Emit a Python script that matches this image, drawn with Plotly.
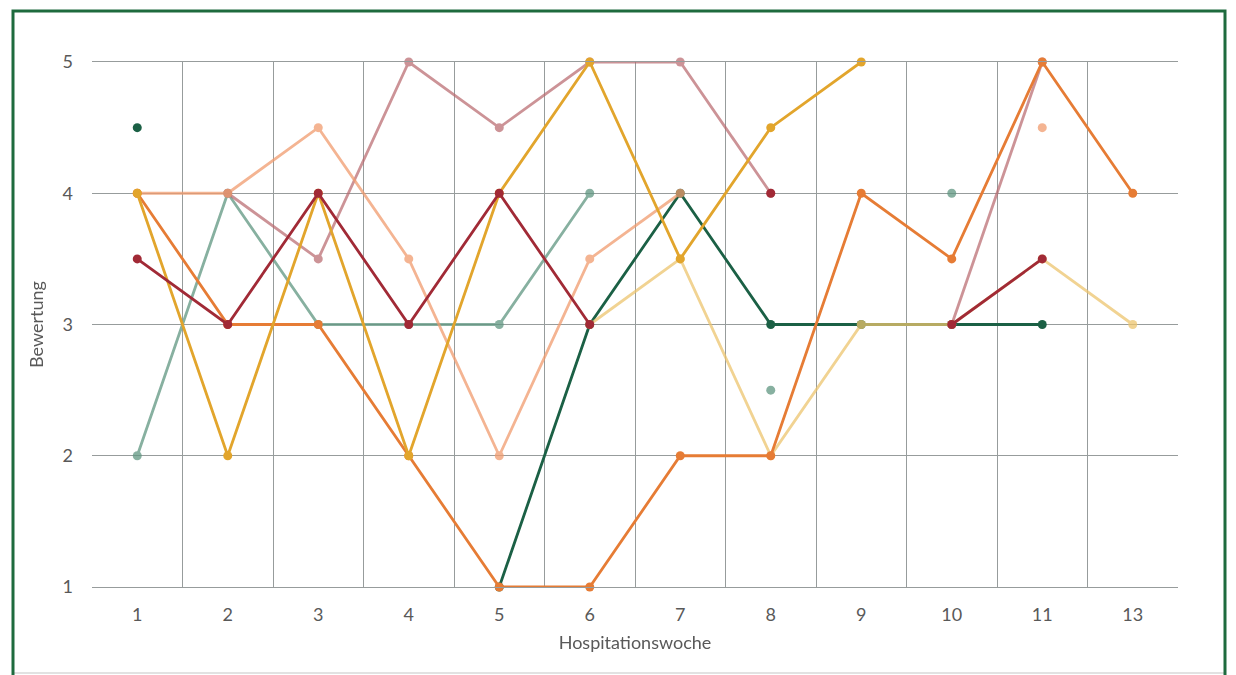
import plotly.graph_objects as go

weeks = ["1", "2", "3", "4", "5", "6", "7", "8", "9", "10", "11", "13"]

s_darkgreen = [4.5, None, None, None, 1, 3, 4, 3, 3, 3, 3, None]
s_teal = [2, 4, 3, 3, 3, 4, None, 2.5, None, 4, None, None]
s_pink = [None, 4, 3.5, 5, 4.5, 5, 5, 4, None, 3, 5, None]
s_peach = [4, 4, 4.5, 3.5, 2, 3.5, 4, None, None, None, 4.5, None]
s_lightyellow = [None, None, None, None, None, 3, 3.5, 2, 3, 3, 3.5, 3]
s_orange = [4, 3, 3, 2, 1, 1, 2, 2, 4, 3.5, 5, 4]
s_golden = [4, 2, 4, 2, 4, 5, 3.5, 4.5, 5, None, None, None]
s_darkred = [3.5, 3, 4, 3, 4, 3, None, 4, None, 3, 3.5, None]

series = [
    (s_darkgreen, "#1b6045", 1.0),
    (s_teal, "rgb(95,150,128)", 0.75),
    (s_pink, "rgb(185,105,110)", 0.72),
    (s_peach, "rgb(240,155,110)", 0.75),
    (s_lightyellow, "rgb(236,196,110)", 0.75),
    (s_orange, "#e67c35", 1.0),
    (s_golden, "#e2a52c", 1.0),
    (s_darkred, "#a12a36", 1.0),
]

fig = go.Figure()
for vals, col, op in series:
    fig.add_trace(go.Scatter(
        x=weeks, y=vals, mode="lines+markers",
        line=dict(color=col, width=2.8),
        marker=dict(color=col, size=9),
        opacity=op, cliponaxis=False, connectgaps=False,
        showlegend=False,
    ))

font = "Lato, 'Open Sans', sans-serif"
grid = "#979c9c"

# page body has an 8px margin; compensate so the plot area lands at 92..1178 / 62..587
fig.update_layout(
    width=1228, height=667,
    margin=dict(l=84, r=58, t=54, b=88),
    paper_bgcolor="white", plot_bgcolor="white",
    font=dict(family=font, size=18, color="#595959"),
    xaxis=dict(
        type="category", tickson="boundaries", showgrid=True,
        gridcolor=grid, gridwidth=1.4, ticks="", ticklen=0,
        showline=True, linecolor=grid, linewidth=1.4, mirror=True,
        zeroline=False, range=[-0.5, 11.5],
        ticklabelstandoff=11,
        title=dict(text="Hospitationswoche", standoff=12,
                   font=dict(family=font, size=18, color="#595959")),
    ),
    yaxis=dict(
        range=[1, 5], tickvals=[1, 2, 3, 4, 5], showgrid=True,
        gridcolor=grid, gridwidth=1.4, zeroline=False,
        showline=False, ticks="", ticklabelstandoff=18,
        title=dict(text="Bewertung", standoff=14,
                   font=dict(family=font, size=18, color="#595959")),
    ),
)

# outer frame (dark green border); coordinates in screen pixels of the reference
W, H = 1086.0, 525.0
def px(x):
    return (x - 92) / W
def py(y):
    return (587 - y) / H

fig.add_shape(type="line", xref="paper", yref="paper",
              x0=px(14), x1=px(1224), y0=py(673), y1=py(673),
              line=dict(color="#d9d9d9", width=1.5), layer="below")
fig.add_shape(type="rect", xref="paper", yref="paper",
              x0=px(13), x1=px(1225), y0=py(700), y1=py(11),
              line=dict(color="#1e6b3e", width=3), layer="below")

fig.write_html("out.html")
